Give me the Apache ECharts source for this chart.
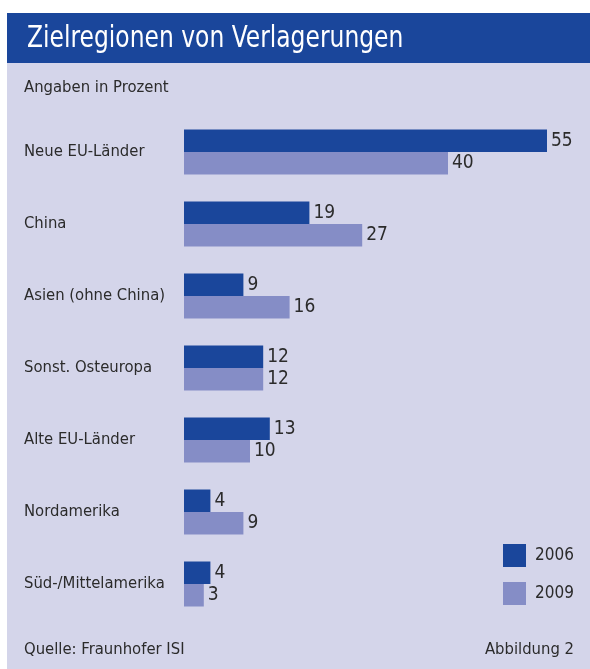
<!DOCTYPE html>
<html>
<head>
<meta charset="utf-8">
<script src="https://cdn.jsdelivr.net/npm/echarts@6/dist/echarts.min.js"></script>
<style>
  html, body { margin: 0; padding: 0; background: #fff; }
  #chart { width: 590px; height: 669px; }
</style>
</head>
<body>
<div id="chart"></div>
<script>
const categories = [
  'Neue EU-Länder',
  'China',
  'Asien (ohne China)',
  'Sonst. Osteuropa',
  'Alte EU-Länder',
  'Nordamerika',
  'Süd-/Mittelamerika',
]
const values2006 = [55, 19, 9, 12, 13, 4, 4]
const values2009 = [40, 27, 16, 12, 10, 9, 3]
const seriesNames = ['2006', '2009']

const colorList = ['#1a469b', '#858dc6']
const fontFamily = '"DejaVu Sans Condensed", "Liberation Sans Narrow", sans-serif'
const textColor = '#2b2b2b'

const myChart = echarts.init(document.getElementById('chart'))

function barSeries(name, data, color) {
  return {
    name,
    type: 'bar',
    data,
    barWidth: 22.5,
    barGap: '0%',
    itemStyle: { color },
    label: {
      show: true,
      position: 'right',
      distance: 4,
      fontFamily,
      fontSize: 19,
      color: textColor,
    },
    z: 5,
  }
}

const option = {
  animation: false,
  backgroundColor: '#ffffff',
  color: colorList,
  graphic: [
    // lavender panel
    { type: 'rect', z: -10, shape: { x: 7, y: 63, width: 583, height: 606 }, style: { fill: '#d4d5ea' } },
    // header band
    { type: 'rect', z: -10, shape: { x: 7, y: 13, width: 583, height: 50 }, style: { fill: '#1a469b' } },
    {
      type: 'text', x: 27, y: 23, scaleX: 0.84,
      style: { text: 'Zielregionen von Verlagerungen', fill: '#ffffff', font: '31px ' + fontFamily },
    },
    {
      type: 'text', left: 24, top: 79,
      style: { text: 'Angaben in Prozent', fill: textColor, font: '16.5px ' + fontFamily },
    },
    {
      type: 'text', left: 24, top: 641,
      style: { text: 'Quelle: Fraunhofer ISI', fill: textColor, font: '16.5px ' + fontFamily },
    },
    {
      type: 'text', right: 16, top: 641,
      style: { text: 'Abbildung 2', fill: textColor, font: '16.5px ' + fontFamily },
    },
  ],
  legend: {
    orient: 'vertical',
    left: 503,
    top: 544,
    padding: 0,
    icon: 'rect',
    itemWidth: 23,
    itemHeight: 23,
    itemGap: 15,
    data: seriesNames,
    textStyle: { fontFamily, fontSize: 17, color: textColor, padding: [0, 0, 0, 4] },
  },
  grid: {
    left: 184,
    top: 116,
    width: 396,
    height: 504,
  },
  xAxis: {
    type: 'value',
    min: 0,
    max: 60,
    show: false,
  },
  yAxis: {
    type: 'category',
    data: categories,
    inverse: true,
    axisLine: { show: false },
    axisTick: { show: false },
    splitLine: { show: false },
    axisLabel: {
      align: 'left',
      margin: 160,
      fontFamily,
      fontSize: 16.5,
      color: textColor,
    },
  },
  series: [
    barSeries(seriesNames[0], values2006, colorList[0]),
    barSeries(seriesNames[1], values2009, colorList[1]),
  ],
}

myChart.setOption(option, true)
</script>
</body>
</html>
